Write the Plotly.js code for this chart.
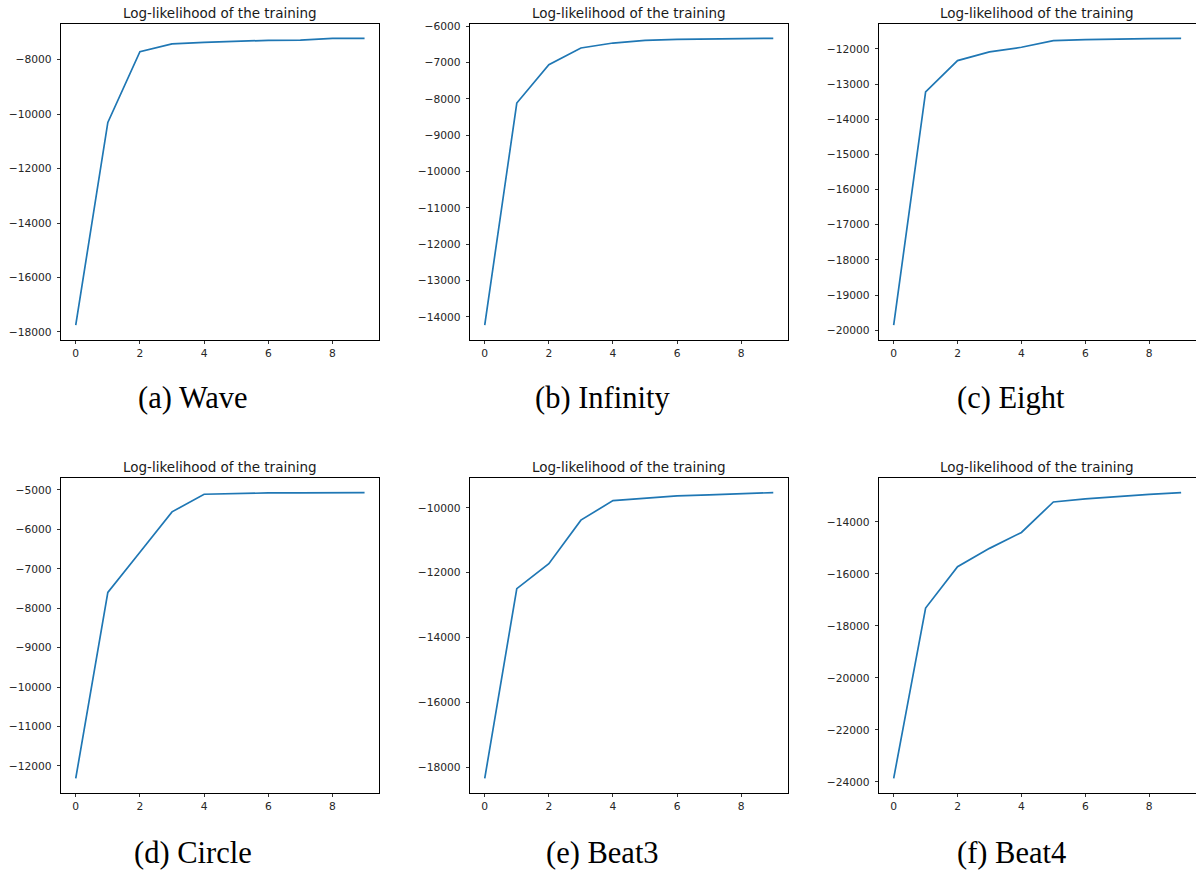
<!DOCTYPE html>
<html>
<head>
<meta charset="utf-8">
<script src="https://cdn.plot.ly/plotly-3.0.1.min.js"></script>
<style>
  html, body { margin: 0; padding: 0; background: #ffffff; }
  #chart { width: 1196px; height: 870px; }
</style>
</head>
<body>
<div id="chart"></div>
<script>
// ---- data ----
const iterations = [0, 1, 2, 3, 4, 5, 6, 7, 8, 9];
const waveLL     = [-17750, -10305, -7706, -7423, -7364, -7313, -7290, -7280, -7217, -7217];
const infinityLL = [-14229, -8113, -7057, -6597, -6460, -6386, -6359, -6350, -6340, -6331];
const eightLL    = [-19857, -13226, -12333, -12086, -11954, -11763, -11735, -11715, -11706, -11700];
const circleLL   = [-12319, -7599, -6580, -5557, -5110, -5085, -5077, -5073, -5070, -5068];
const beat3LL    = [-18338, -12489, -11721, -10379, -9776, -9693, -9631, -9600, -9570, -9530];
const beat4LL    = [-23870, -17318, -15724, -15020, -14408, -13234, -13119, -13015, -12939, -12874];

const panelTitle = "Log-likelihood of the training";
const captions = ["(a) Wave", "(b) Infinity", "(c) Eight", "(d) Circle", "(e) Beat3", "(f) Beat4"];
const series = [waveLL, infinityLL, eightLL, circleLL, beat3LL, beat4LL];
const yDticks = [2000, 1000, 1000, 1000, 2000, 2000];

// ---- layout geometry (pixels) ----
const W = 1196, H = 870;
const colBoxes = [[61.3, 379.0], [470.3, 787.7], [879.3, 1195.5]];
const rowBoxes = [[24.0, 339.5], [478.3, 792.7]];   // top, bottom (px from top)
const captionX = [193, 602, 1011];
const captionY = [398, 853];

const traces = [];
const layout = {
  width: W, height: H,
  margin: {l: 0, r: 0, t: 0, b: 0},
  paper_bgcolor: "#ffffff",
  plot_bgcolor: "#ffffff",
  showlegend: false,
  annotations: []
};

const tickFont = {family: "DejaVu Sans, sans-serif", size: 10.7, color: "#262626"};

function padRange(arr, frac) {
  const lo = Math.min.apply(null, arr), hi = Math.max.apply(null, arr);
  const d = (hi - lo) * frac;
  return [lo - d, hi + d];
}
function ticksIn(range, step) {
  const out = [];
  for (let v = Math.ceil(range[0] / step) * step; v <= range[1]; v += step) out.push(v);
  return out;
}
const fmt = v => String(v).replace("-", "\u2212");

series.forEach((vals, i) => {
  const r = Math.floor(i / 3), c = i % 3;
  const n = i + 1;
  const xa = n === 1 ? "x" : "x" + n;
  const ya = n === 1 ? "y" : "y" + n;
  const xKey = n === 1 ? "xaxis" : "xaxis" + n;
  const yKey = n === 1 ? "yaxis" : "yaxis" + n;

  traces.push({
    x: iterations, y: vals, xaxis: xa, yaxis: ya,
    type: "scatter", mode: "lines",
    line: {color: "#1f77b4", width: 1.7},
    hoverinfo: "x+y"
  });

  const xd = [colBoxes[c][0] / W, colBoxes[c][1] / W];
  const yd = [1 - rowBoxes[r][1] / H, 1 - rowBoxes[r][0] / H];
  const yr = padRange(vals, 0.05);
  const yt = ticksIn(yr, yDticks[i]);

  layout[xKey] = {
    domain: xd, anchor: ya,
    range: padRange(iterations, 0.05),
    tickmode: "linear", tick0: 0, dtick: 2,
    showgrid: false, zeroline: false,
    showline: true, mirror: true, linecolor: "#000000", linewidth: 1,
    ticks: "outside", ticklen: 3.5, tickwidth: 0.8, tickcolor: "#000000",
    tickfont: tickFont
  };
  layout[yKey] = {
    domain: yd, anchor: xa,
    range: yr,
    tickmode: "array", tickvals: yt, ticktext: yt.map(fmt),
    showgrid: false, zeroline: false,
    showline: true, mirror: true, linecolor: "#000000", linewidth: 1,
    ticks: "outside", ticklen: 3.5, tickwidth: 0.8, tickcolor: "#000000",
    ticklabelstandoff: 3,
    tickfont: tickFont
  };

  layout.annotations.push({
    text: panelTitle, showarrow: false,
    xref: "paper", yref: "paper",
    x: (xd[0] + xd[1]) / 2, y: yd[1],
    xanchor: "center", yanchor: "bottom", yshift: 1,
    font: {family: "DejaVu Sans, sans-serif", size: 13.5, color: "#1a1a1a"}
  });
  layout.annotations.push({
    text: captions[i], showarrow: false,
    xref: "paper", yref: "paper",
    x: captionX[c] / W, y: 1 - captionY[r] / H,
    xanchor: "center", yanchor: "middle",
    font: {family: "Liberation Serif, serif", size: 30.5, color: "#000000"}
  });
});

Plotly.newPlot("chart", traces, layout, {staticPlot: true, displayModeBar: false});
</script>
</body>
</html>
